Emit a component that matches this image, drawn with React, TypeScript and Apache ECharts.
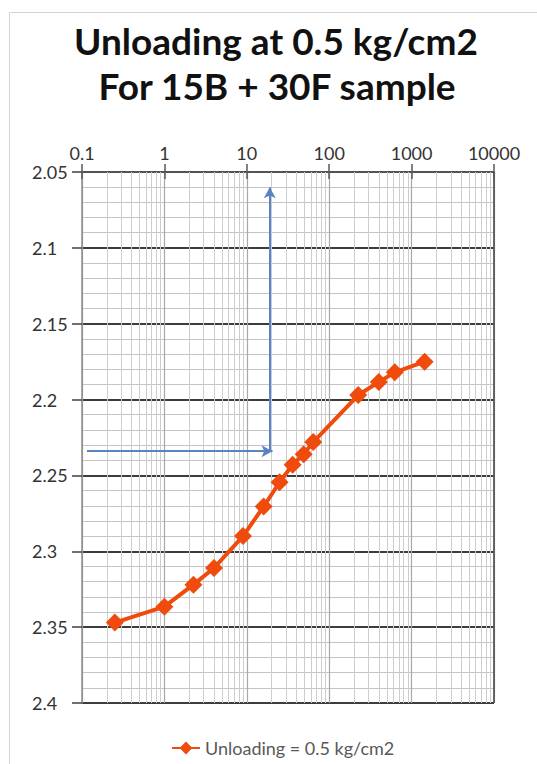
import React, { useEffect, useRef } from "react";
import * as echarts from "echarts";

const titleLines = ["Unloading at 0.5 kg/cm2", "For 15B + 30F sample"];
const seriesName = "Unloading = 0.5 kg/cm2";
const xTickLabels = ["0.1", "1", "10", "100", "1000", "10000"];
const yTickLabels = ["2.05", "2.1", "2.15", "2.2", "2.25", "2.3", "2.35", "2.4"];
const timeValues = [0.25, 1, 2.25, 4, 9, 16, 25, 36, 49, 64, 225, 400, 625, 1440];
const dialValues = [2.347, 2.3365, 2.322, 2.311, 2.29, 2.2705, 2.2545, 2.243, 2.236, 2.228, 2.197, 2.1885, 2.182, 2.175];
const arrowH = [[0.115, 2.234], [20.5, 2.234]];
const arrowV = [[19, 2.234], [19, 2.06]];
const decades = [0.1, 1, 10, 100, 1000];
const minorMultipliers = [2, 3, 4, 5, 6, 7, 8, 9];

export default function App() {
  const ref = useRef<HTMLDivElement>(null);
  useEffect(() => {
    if (!ref.current) return;
    const chart = echarts.init(ref.current, null, { renderer: "svg" });
    const minorGrid: any[] = [];
    decades.forEach((d) =>
      minorMultipliers.forEach((m) => minorGrid.push({ xAxis: parseFloat((d * m).toPrecision(6)) }))
    );
    const font = "Lato, 'Open Sans', sans-serif";
    chart.setOption({
      animation: false,
      backgroundColor: "#ffffff",
      textStyle: { fontFamily: font },
      graphic: [
        {
          type: "rect",
          shape: { x: 9.5, y: 12.5, width: 700, height: 900 },
          style: { fill: "none", stroke: "#d4d4d4", lineWidth: 1 },
          silent: true,
        },
        {
          type: "text",
          x: 276,
          y: 40,
          style: {
            text: titleLines[0],
            font: "bold 37px " + font,
            fill: "#111111",
            textAlign: "center",
            textVerticalAlign: "middle",
          },
        },
        {
          type: "text",
          x: 277,
          y: 85,
          style: {
            text: titleLines[1],
            font: "bold 37px " + font,
            fill: "#111111",
            textAlign: "center",
            textVerticalAlign: "middle",
          },
        },
      ],
      legend: {
        data: [seriesName],
        left: 166,
        top: 734,
        itemWidth: 28,
        itemHeight: 16,
        textStyle: { fontSize: 18, color: "#595959", fontFamily: font },
      },
      grid: { left: 82, top: 172, width: 412, height: 531, containLabel: false },
      xAxis: [
        {
          type: "log",
          logBase: 10,
          min: 0.1,
          max: 10000,
          position: "top",
          axisLine: { show: true, lineStyle: { color: "#595959", width: 1.5 } },
          axisTick: { show: true, inside: false, length: 8, lineStyle: { color: "#595959", width: 1.5 } },
          axisLabel: {
            fontSize: 18,
            color: "#333333",
            margin: 10,
            fontFamily: font,
            formatter: (v: number) => xTickLabels[Math.round(Math.log10(v)) + 1] ?? "",
          },
          splitLine: { show: true, lineStyle: { color: "#a8a8a8", width: 1.2 } },
        },
        {
          type: "log",
          logBase: 10,
          min: 0.1,
          max: 10000,
          position: "top",
          axisLine: { show: false },
          axisTick: { show: true, inside: true, length: 7, lineStyle: { color: "#595959", width: 1.5 } },
          axisLabel: { show: false },
          splitLine: { show: false },
        },
      ],
      yAxis: {
        type: "value",
        inverse: true,
        min: 2.05,
        max: 2.4,
        interval: 0.05,
        axisLine: { show: true, lineStyle: { color: "#8c8c8c", width: 1.5 } },
        axisTick: { show: true, inside: false, length: 10, lineStyle: { color: "#404040", width: 1.5 } },
        axisLabel: {
          fontSize: 18,
          color: "#333333",
          align: "left",
          margin: 50,
          fontFamily: font,
          formatter: (v: number) => yTickLabels[Math.round((v - 2.05) / 0.05)] ?? "",
        },
        splitLine: { show: true, lineStyle: { color: "#3c3c3c", width: 2.2 } },
        minorTick: { show: false, splitNumber: 5 },
        minorSplitLine: { show: true, lineStyle: { color: "#c4c4c4", width: 1 } },
      },
      series: [
        {
          type: "line",
          name: "grid-helper",
          xAxisIndex: 0,
          yAxisIndex: 0,
          data: [],
          z: 1,
          silent: true,
          markLine: {
            silent: true,
            symbol: ["none", "none"],
            label: { show: false },
            animation: false,
            lineStyle: { color: "#cdcdcd", width: 1, type: "solid" },
            data: [
              ...minorGrid,
              { xAxis: 10000, lineStyle: { color: "#595959", width: 1.8, type: "solid" } },
            ],
          },
        },
        {
          type: "line",
          name: "arrows",
          xAxisIndex: 0,
          yAxisIndex: 0,
          data: [],
          z: 2,
          silent: true,
          markLine: {
            silent: true,
            symbol: ["none", "arrow"],
            symbolSize: [9, 11],
            label: { show: false },
            animation: false,
            lineStyle: { color: "#5b82c2", width: 2, type: "solid" },
            data: [
              [{ coord: arrowH[0] }, { coord: arrowH[1] }],
              [{ coord: arrowV[0] }, { coord: arrowV[1] }],
            ],
          },
        },
        {
          type: "line",
          name: seriesName,
          xAxisIndex: 0,
          yAxisIndex: 0,
          z: 5,
          data: timeValues.map((t, i) => [t, dialValues[i]]),
          symbol: "diamond",
          symbolSize: 18,
          lineStyle: { color: "#ef4b0c", width: 4 },
          itemStyle: { color: "#ef4b0c" },
        },
      ],
    });
    return () => chart.dispose();
  }, []);
  return <div ref={ref} style={{ position: "absolute", left: 0, top: 0, width: 537, height: 764 }} />;
}
